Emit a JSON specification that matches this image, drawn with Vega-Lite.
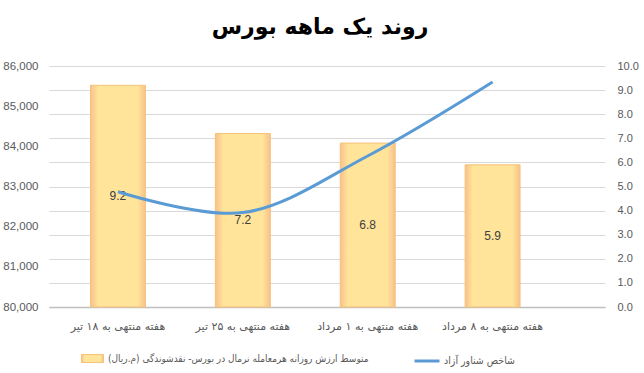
{
  "$schema": "https://vega.github.io/schema/vega-lite/v6.json",
  "width": 556,
  "height": 241,
  "autosize": {"type": "none"},
  "padding": {"left": 49, "top": 66, "right": 39, "bottom": 66},
  "background": "white",
  "title": {"text": "روند یک ماهه بورس", "font": "DejaVu Sans", "fontSize": 22, "fontWeight": "bold", "color": "#000000", "anchor": "middle", "frame": "group", "dx": -7, "offset": 4, "baseline": "alphabetic"},
  "config": {"view": {"stroke": null}, "font": "Liberation Sans, DejaVu Sans"},
  "data": {"values": [
    {"week": "هفته منتهی به ۱۸ تیر", "value": 9.2, "index": 82870},
    {"week": "هفته منتهی به ۲۵ تیر", "value": 7.2, "index": 82350},
    {"week": "هفته منتهی به ۱ مرداد", "value": 6.8, "index": 83760},
    {"week": "هفته منتهی به ۸ مرداد", "value": 5.9, "index": 85600}
  ]},
  "encoding": {
    "x": {"field": "week", "type": "nominal", "sort": null,
      "scale": {"paddingInner": 0, "paddingOuter": 0.226, "align": 0.115},
      "axis": {"title": null, "labelAngle": 0, "labelFontSize": 11, "labelFont": "DejaVu Sans", "labelColor": "#595959", "ticks": false, "domainColor": "#bfbfbf", "domainWidth": 1.5, "labelPadding": 13}}
  },
  "layer": [
    {
      "mark": {"type": "bar", "width": {"band": 0.44}, "strokeWidth": 1,
        "fill": {"gradient": "linear", "x1": 0, "x2": 1, "y1": 0, "y2": 0, "stops": [
          {"offset": 0, "color": "#f8c08a"},
          {"offset": 0.14, "color": "#ffe49a"},
          {"offset": 0.86, "color": "#ffe49a"},
          {"offset": 1, "color": "#f8c08a"}]}},
      "encoding": {
        "y": {"field": "value", "type": "quantitative", "scale": {"domain": [0, 10]},
          "axis": {"orient": "right", "title": null, "values": [0,1,2,3,4,5,6,7,8,9,10], "format": ".1f", "grid": true, "gridColor": "#d9d9d9", "domain": false, "ticks": false, "labelColor": "#595959", "labelFontSize": 11, "labelPadding": 12}},
        "stroke": {"datum": "متوسط ارزش روزانه هرمعامله نرمال در بورس- نقدشوندگی (م.ریال)", "scale": {"range": ["#f6c27a"]},
          "legend": {"title": null, "orient": "none", "legendX": 32, "legendY": 281, "padding": 0, "symbolType": "M-1,-0.36H1V0.36H-1Z", "symbolSize": 484, "symbolStrokeWidth": 1, "labelFont": "DejaVu Sans Condensed, DejaVu Sans", "labelFontSize": 10, "labelColor": "#595959", "labelLimit": 400, "labelOffset": 4,
            "encode": {"symbols": {"update": {"fill": {"value": "#f8b470"}, "stroke": {"value": "#f4a460"}}}}}}
      }
    },
    {
      "transform": [{"calculate": "datum.value / 2", "as": "mid"}],
      "mark": {"type": "text", "fontSize": 12, "color": "#404040"},
      "encoding": {
        "y": {"field": "mid", "type": "quantitative", "scale": {"domain": [0, 10]}, "axis": null},
        "text": {"field": "value", "type": "quantitative", "format": ".1f"}
      }
    },
    {
      "mark": {"type": "line", "interpolate": "catmull-rom", "strokeWidth": 3},
      "encoding": {
        "y": {"field": "index", "type": "quantitative", "scale": {"domain": [80000, 86000]},
          "axis": {"orient": "left", "title": null, "values": [80000,81000,82000,83000,84000,85000,86000], "format": ",.0f", "grid": false, "domain": false, "ticks": false, "labelColor": "#595959", "labelFontSize": 11.5, "labelPadding": 11}},
        "color": {"datum": "شاخص شناور آزاد", "scale": {"range": ["#5b9bd5"]},
          "legend": {"title": null, "orient": "none", "legendX": 364, "legendY": 281, "padding": 0, "symbolType": "stroke", "symbolSize": 625, "symbolStrokeWidth": 3, "labelFont": "DejaVu Sans Condensed, DejaVu Sans", "labelFontSize": 10.5, "labelColor": "#595959", "labelLimit": 400, "labelOffset": 3}}
      }
    }
  ],
  "resolve": {"scale": {"y": "independent"}}
}
